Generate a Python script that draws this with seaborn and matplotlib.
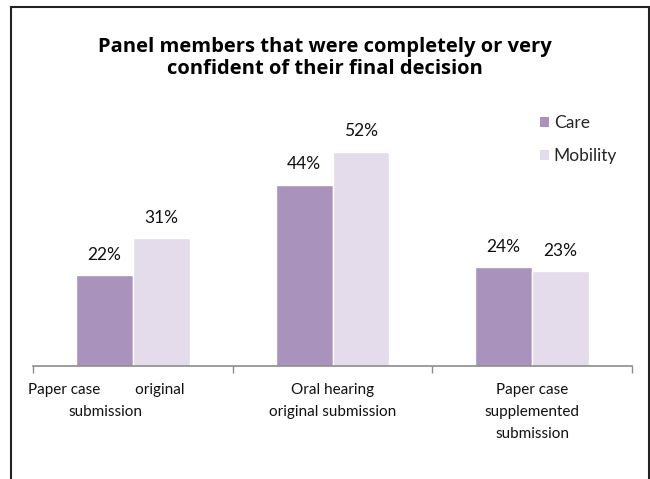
import matplotlib
matplotlib.use("Agg")
import matplotlib.pyplot as plt
import matplotlib.transforms as mtransforms
from matplotlib.patches import Rectangle, Patch
import seaborn as sns
import pandas as pd

categories = ["Paper case         original\nsubmission",
              "Oral hearing\noriginal submission",
              "Paper case\nsupplemented\nsubmission"]
series = ["Care", "Mobility"]
care = [22, 44, 24]
mobility = [31, 52, 23]
colors = ["#A992BC", "#E4DCEA"]
title = "Panel members that were completely or very\nconfident of their final decision"

sns.set_theme(style="white")
plt.rcParams['font.family'] = ['Lato', 'DejaVu Sans']

df = pd.DataFrame({
    "category": categories * 2,
    "series": [series[0]] * 3 + [series[1]] * 3,
    "value": care + mobility,
})

fig = plt.figure(figsize=(6.5, 4.79), dpi=100)
ax = fig.add_axes([33/650, 1 - 366/479, (632-33)/650, 60*4.12/479])

sns.barplot(data=df, x="category", y="value", hue="series", order=categories,
            hue_order=series, palette=colors, width=0.57, saturation=1,
            ax=ax, legend=False)

ax.set_ylim(0, 60)
ax.set_xlim(-0.5, 2.5)
ax.set_xlabel("")
ax.set_ylabel("")
ax.set_yticks([])
for s in ["top", "left", "right"]:
    ax.spines[s].set_visible(False)
ax.spines["bottom"].set_color("#8c8c8c")
ax.spines["bottom"].set_linewidth(1.2)

ax.set_xticks([-0.5, 0.5, 1.5, 2.5], minor=True)
ax.tick_params(axis="x", which="minor", length=5, width=1, color="#8c8c8c", direction="out", bottom=True)
ax.tick_params(axis="x", which="major", length=0, pad=12.5, labelsize=11, labelcolor="#111111")
for i, lab in enumerate(ax.get_xticklabels()):
    lab.set_linespacing(1.7)
    if i == 0:
        lab.set_transform(lab.get_transform() + mtransforms.ScaledTranslation(-27/100, 0, fig.dpi_scale_trans))

for cont in ax.containers:
    ax.bar_label(cont, labels=[f"{int(v)}%" for v in cont.datavalues],
                 padding=9, fontsize=12.5, color="#111111")

handles = [Patch(facecolor=c, edgecolor="none") for c in colors]
fig.legend(handles, series, loc="upper left", bbox_to_anchor=(533/650, 1 - 108/479),
           frameon=False, fontsize=12.5, handlelength=0.5, handleheight=0.5,
           handletextpad=0.3, labelspacing=1.0, borderaxespad=0)

fig.text(325/650, 1 - 37/479, title, ha="center", va="top", fontsize=14.5,
         fontweight="bold", color="#000000", linespacing=1.1,
         family=["Open Sans", "DejaVu Sans"])

fig.patches.append(Rectangle((11/650, -0.05), (649-11)/650, 1.05 - 7/479,
                             transform=fig.transFigure, fill=False,
                             edgecolor="#222222", linewidth=1.5))

fig.savefig("out.png", dpi=100)
